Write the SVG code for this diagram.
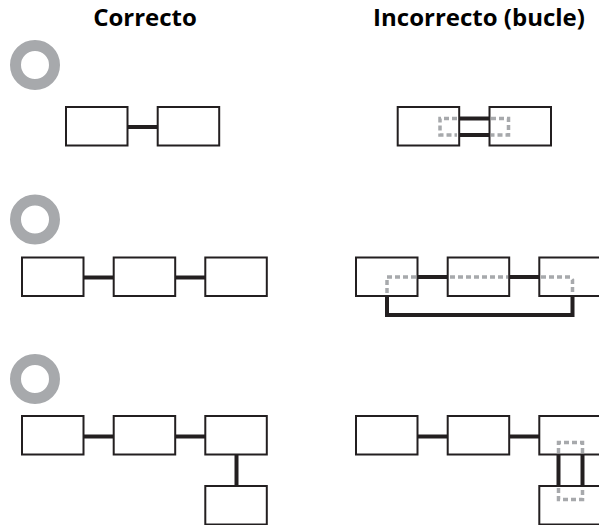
<svg xmlns="http://www.w3.org/2000/svg" width="599" height="525" viewBox="0 0 599 525">
<style>
.t{font-family:"Open Sans","Noto Sans","Liberation Sans",sans-serif;font-weight:bold;font-size:24px;fill:#000;text-anchor:middle}
.box{fill:#fff;stroke:#231f20;stroke-width:2}
.ring{fill:none;stroke:#a7a9ac;stroke-width:11}
.c{fill:none;stroke:#231f20;stroke-width:4}
.d{fill:none;stroke:#a7a9ac;stroke-width:3.5;stroke-dasharray:5 3}
</style>
<rect width="599" height="525" fill="#fff"/>
<text class="t" x="145" y="26">Correcto</text>
<text class="t" x="479" y="26">Incorrecto (bucle)</text>
<g id="rings">
<circle class="ring" cx="35" cy="65" r="19.5"/>
<circle class="ring" cx="35" cy="219.5" r="19.5"/>
<circle class="ring" cx="35" cy="379" r="19.5"/>
</g>
<g id="connectors">
<line class="c" x1="128" y1="127" x2="158" y2="127"/>
<line class="c" x1="459" y1="118.5" x2="490" y2="118.5"/>
<line class="c" x1="459" y1="135" x2="490" y2="135"/>
<line class="c" x1="83" y1="277.5" x2="114" y2="277.5"/>
<line class="c" x1="175" y1="277.5" x2="206" y2="277.5"/>
<line class="c" x1="417" y1="277" x2="448" y2="277"/>
<line class="c" x1="509" y1="277" x2="540" y2="277"/>
<polyline class="c" points="387,296 387,315 572.5,315 572.5,296"/>
<line class="c" x1="83" y1="436.5" x2="114" y2="436.5"/>
<line class="c" x1="175" y1="436.5" x2="206" y2="436.5"/>
<line class="c" x1="236.5" y1="455" x2="236.5" y2="486"/>
<line class="c" x1="417" y1="436.5" x2="448" y2="436.5"/>
<line class="c" x1="509" y1="436.5" x2="540" y2="436.5"/>
<line class="c" x1="558.5" y1="455" x2="558.5" y2="486"/>
<line class="c" x1="582.5" y1="455" x2="582.5" y2="486"/>
</g>
<g id="r1l-a"><rect class="box" x="66" y="107" width="61.5" height="38.5"/></g>
<g id="r1l-b"><rect class="box" x="157.7" y="107" width="61.5" height="38.5"/></g>
<g id="r1r-a"><rect class="box" x="397.7" y="107" width="61.5" height="38.5"/></g>
<g id="r1r-b"><rect class="box" x="489.5" y="107" width="61.5" height="38.5"/></g>
<g id="r2l-a"><rect class="box" x="22" y="257.5" width="61.5" height="38.5"/></g>
<g id="r2l-b"><rect class="box" x="113.7" y="257.5" width="61.5" height="38.5"/></g>
<g id="r2l-c"><rect class="box" x="205.3" y="257.5" width="61.5" height="38.5"/></g>
<g id="r2r-a"><rect class="box" x="356" y="257.5" width="61.5" height="38.5"/></g>
<g id="r2r-b"><rect class="box" x="447.7" y="257.5" width="61.5" height="38.5"/></g>
<g id="r2r-c"><rect class="box" x="539.3" y="257.5" width="61.5" height="38.5"/></g>
<g id="r3l-a"><rect class="box" x="22" y="416" width="61.5" height="38.5"/></g>
<g id="r3l-b"><rect class="box" x="113.7" y="416" width="61.5" height="38.5"/></g>
<g id="r3l-c"><rect class="box" x="205.3" y="416" width="61.5" height="38.5"/></g>
<g id="r3l-d"><rect class="box" x="205.3" y="486" width="61.5" height="38.5"/></g>
<g id="r3r-a"><rect class="box" x="356" y="416" width="61.5" height="38.5"/></g>
<g id="r3r-b"><rect class="box" x="447.7" y="416" width="61.5" height="38.5"/></g>
<g id="r3r-c"><rect class="box" x="539.3" y="416" width="61.5" height="38.5"/></g>
<g id="r3r-d"><rect class="box" x="539.3" y="486" width="61.5" height="38.5"/></g>
<g id="loops">
<polyline class="d" points="457,118.5 440,118.5 440,135 457,135"/>
<polyline class="d" points="491,118.5 508.5,118.5 508.5,135 491,135"/>
<polyline class="d" points="416,277 387,277 387,295"/>
<line class="d" x1="450" y1="277" x2="508" y2="277"/>
<polyline class="d" points="541,277 570,277 572.5,280 572.5,295"/>
<polyline class="d" points="558.5,453 558.5,442.5 582.5,442.5 582.5,453"/>
<polyline class="d" points="558.5,488 558.5,499.5 582.5,499.5 582.5,488"/>
</g>
</svg>
